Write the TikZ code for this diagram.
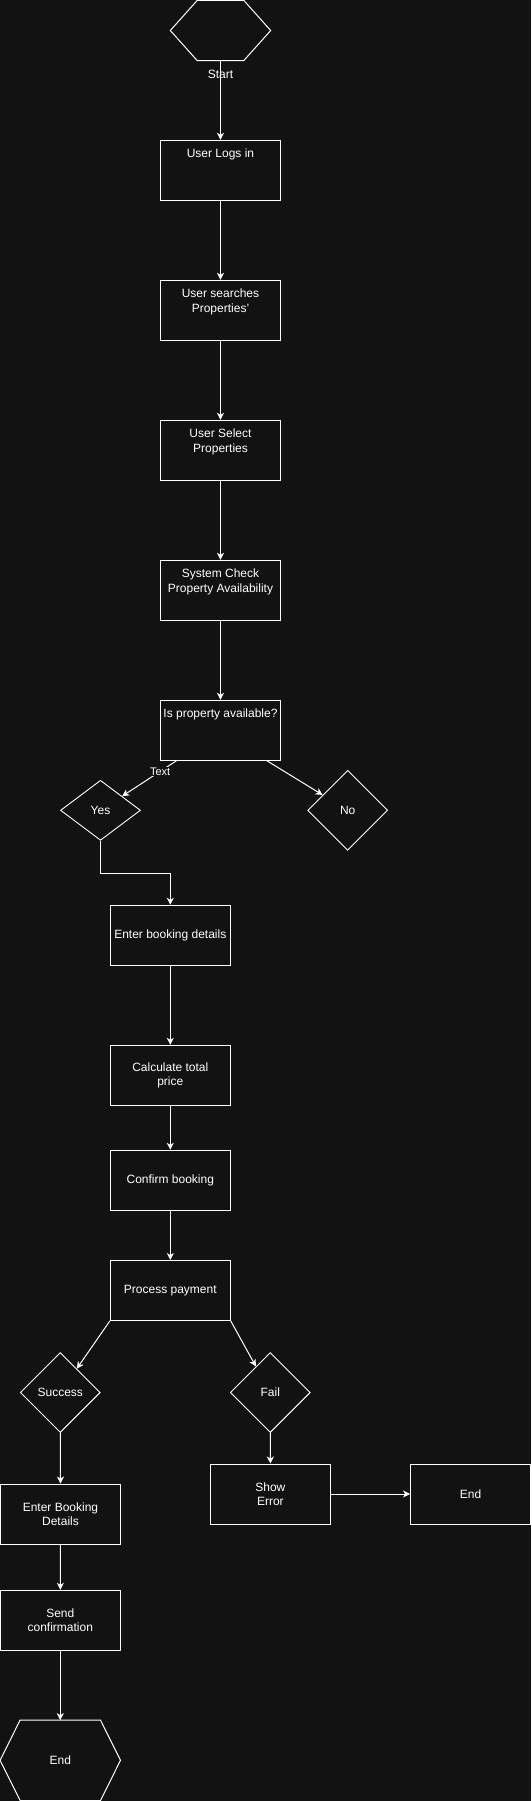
\documentclass[tikz,border=0pt]{standalone}
\usepackage{fontspec}
\setmainfont{Liberation Sans}
\usetikzlibrary{shapes,arrows.meta,positioning,calc}
\definecolor{bgdark}{HTML}{121212}

\begin{document}
\begin{tikzpicture}[x=1pt, y=-1pt,
  txt/.style={text=white, inner sep=0pt, font=\fontsize{12}{14.5}\selectfont, align=center},
  proc/.style={txt, draw=white, line width=1pt, minimum width=120pt, minimum height=60pt},
  topproc/.style={proc, label={[txt, anchor=north, yshift=-9pt]north:#1}},
  choice/.style={txt, diamond, draw=white, line width=0.9pt},
  hexline/.style={draw=white, line width=1pt},
  flow/.style={draw=white, line width=1pt, -{Stealth[length=7pt,width=7pt,inset=2pt]}}
]
  % canvas
  \fill[bgdark] (0,0) rectangle (531,1801);

  % start hexagon
  \node[txt, minimum width=100pt, minimum height=60pt] (start) at (220.5,30.5) {};
  \draw[hexline] (start.west) -- ([xshift=27pt]start.north west) -- ([xshift=-27pt]start.north east)
    -- (start.east) -- ([xshift=-27pt]start.south east) -- ([xshift=27pt]start.south west) -- cycle;
  \node[txt] (startlbl) at (220.5,74) {Start};

  % main column
  \node[topproc={User Logs in}] (logs) at (220.5,170.3) {};
  \node[topproc={User searches\\Properties'}] (search) at (220.5,310.3) {};
  \node[topproc={User Select\\Properties}] (select) at (220.5,450.3) {};
  \node[topproc={System Check\\Property Availability}] (check) at (220.5,590.3) {};
  \node[topproc={Is property available?}] (avail) at (220.5,730.3) {};

  % decision
  \node[choice, minimum width=80pt, minimum height=60pt] (yes) at (100.5,810.3) {Yes};
  \node[choice, minimum width=80pt, minimum height=80pt] (no) at (347.7,810.3) {No};

  % booking steps
  \node[proc] (enterbook) at (170.3,935.3) {Enter booking details};
  \node[proc] (price) at (170.3,1075.3) {Calculate total\\price};
  \node[proc] (confirm) at (170.3,1180.3) {Confirm booking};
  \node[proc] (pay) at (170.3,1290.5) {Process payment};

  % payment result
  \node[choice, minimum width=80pt, minimum height=80pt] (success) at (60.3,1392.5) {Success};
  \node[choice, minimum width=80pt, minimum height=80pt] (fail) at (270.3,1392.5) {Fail};
  \node[proc] (details) at (60.5,1514) {Enter Booking\\Details};
  \node[proc] (error) at (270.4,1494) {Show\\Error};
  \node[proc] (endbox) at (470.6,1494) {End};
  \node[proc] (send) at (60.3,1620.3) {Send\\confirmation};

  % end hexagon
  \node[txt, minimum width=120pt, minimum height=80pt] (endhex) at (60.3,1760.3) {End};
  \draw[hexline] (endhex.west) -- ([xshift=20pt]endhex.north west) -- ([xshift=-20pt]endhex.north east)
    -- (endhex.east) -- ([xshift=-20pt]endhex.south east) -- ([xshift=20pt]endhex.south west) -- cycle;

  % connectors
  \draw[flow] (start.south) -- (logs.north);
  \draw[flow] (logs) -- (search);
  \draw[flow] (search) -- (select);
  \draw[flow] (select) -- (check);
  \draw[flow] (check) -- (avail);
  \draw[flow] ([xshift=16.4pt]avail.south west) -- (yes)
    node[pos=0.3, fill=bgdark, text=white, inner sep=1pt, font=\fontsize{11}{13}\selectfont] {Text};
  \draw[flow] ([xshift=-14pt]avail.south east) -- (no);
  \draw[flow] (yes.south) -- ++(0,32.5) -| (enterbook.north);
  \draw[flow] (enterbook) -- (price);
  \draw[flow] (price) -- (confirm);
  \draw[flow] (confirm) -- (pay);
  \draw[flow] (pay.south west) -- (success);
  \draw[flow] (pay.south east) -- (fail);
  \draw[flow] (success.south) -- (details.north);
  \draw[flow] (fail.south) -- (error.north);
  \draw[flow] (error) -- (endbox);
  \draw[flow] (details) -- (send);
  \draw[flow] (send.south) -- (endhex.north);

  % fix page size
  \pgfresetboundingbox
  \useasboundingbox (0,0) rectangle (531,1801);
\end{tikzpicture}
\end{document}
